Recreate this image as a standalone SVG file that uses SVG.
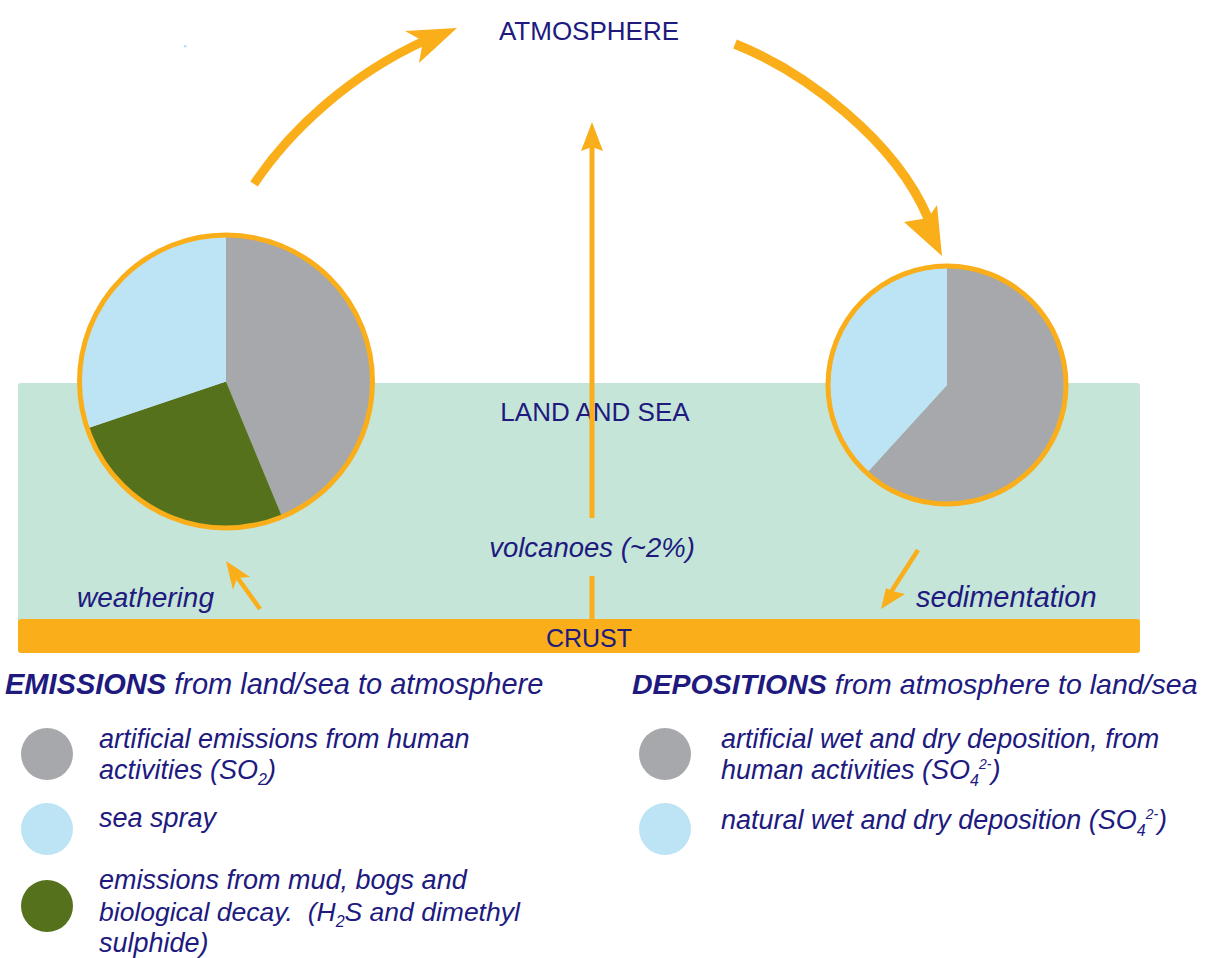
<svg xmlns="http://www.w3.org/2000/svg" width="1205" height="958" viewBox="0 0 1205 958">
  <style>
    .txt { font-family: "Liberation Sans", Arial, sans-serif; fill: #201a7f; }
    .it { font-style: italic; }
    .bold { font-weight: bold; }
    .flow { fill: none; stroke: #f9ae1a; }
    .head { fill: #f9ae1a; }
    .grey { fill: #a7a8ab; }
    .blue { fill: #bde4f5; }
    .green { fill: #55711c; }
    .rim { fill: none; stroke: #f9ae1a; stroke-width: 5; }
    .sub { font-size: 16px; }
    .sup { font-size: 14px; }
  </style>

  <rect width="1205" height="958" fill="#ffffff"/>
  <rect x="184" y="45" width="2.5" height="2.5" fill="#bde4f5"/>

  <!-- land and sea layer -->
  <g id="land-sea">
    <rect x="18" y="383" width="1122" height="240" rx="3" fill="#c5e5d9"/>
    <text class="txt" x="595" y="421" font-size="26" text-anchor="middle">LAND AND SEA</text>
  </g>

  <!-- crust bar -->
  <g id="crust">
    <rect x="18" y="619" width="1122" height="34" rx="3" fill="#f9ae1a"/>
    <text class="txt" x="589" y="647" font-size="25" text-anchor="middle">CRUST</text>
  </g>

  <g id="atmosphere">
    <text class="txt" x="589" y="40" font-size="26" text-anchor="middle">ATMOSPHERE</text>
  </g>

  <!-- connectors -->
  <g id="connectors">
    <!-- emissions up to the atmosphere -->
    <path class="flow" d="M254,184 C290,130 350,75 424,41" stroke-width="9"/>
    <polygon class="head" points="457,28 405,31 423,41 419,63"/>
    <!-- deposition down to land/sea -->
    <path class="flow" d="M735,44 C805,72 895,140 928,218" stroke-width="9.5"/>
    <polygon class="head" points="942,256 904,222 928,218 937,205"/>
    <!-- volcanoes -->
    <line class="flow" x1="592" y1="146" x2="592" y2="518" stroke-width="5"/>
    <line class="flow" x1="592" y1="576" x2="592" y2="620" stroke-width="5"/>
    <polygon class="head" points="592,122 581,151 592,147 603,151"/>
    <!-- weathering -->
    <line class="flow" x1="260" y1="609" x2="237" y2="577" stroke-width="4.5"/>
    <polygon class="head" points="226,561 233,590 237,578 250,577"/>
    <!-- sedimentation -->
    <line class="flow" x1="918" y1="550" x2="891" y2="592" stroke-width="4.5"/>
    <polygon class="head" points="881,609 886,588 892,591 905,594"/>
  </g>

  <g id="volcanoes-label">
    <text class="txt it" x="592" y="557" font-size="27.5" text-anchor="middle">volcanoes (~2%)</text>
  </g>
  <g id="weathering-label">
    <text class="txt it" x="77" y="607" font-size="28">weathering</text>
  </g>
  <g id="sedimentation-label">
    <text class="txt it" x="916" y="607" font-size="29">sedimentation</text>
  </g>

  <!-- emission sources pie -->
  <g id="emissions-pie">
    <path class="grey" d="M226,381.5 L226,234.5 A147,147 0 0 1 282.3,517.3 Z"/>
    <path class="green" d="M226,381.5 L282.3,517.3 A147,147 0 0 1 86.8,428.6 Z"/>
    <path class="blue" d="M226,381.5 L86.8,428.6 A147,147 0 0 1 226,234.5 Z"/>
    <circle class="rim" cx="226" cy="381.5" r="146.5"/>
  </g>

  <!-- deposition pie -->
  <g id="depositions-pie">
    <path class="grey" d="M947,385 L947,266 A119,119 0 1 1 866.8,472.9 Z"/>
    <path class="blue" d="M947,385 L866.8,472.9 A119,119 0 0 1 947,266 Z"/>
    <circle class="rim" cx="947" cy="385" r="119"/>
  </g>

  <!-- emissions legend -->
  <g id="emissions-legend">
    <text class="txt it" x="5" y="694" font-size="29"><tspan class="bold">EMISSIONS</tspan> from land/sea to atmosphere</text>
    <circle class="grey" cx="47" cy="754" r="26"/>
    <text class="txt it" x="99" y="748" font-size="27">artificial emissions from human</text>
    <text class="txt it" x="99" y="779" font-size="27">activities (SO<tspan class="sub" dy="6">2</tspan><tspan dy="-6">)</tspan></text>
    <circle class="blue" cx="47" cy="829" r="26"/>
    <text class="txt it" x="99" y="827" font-size="27">sea spray</text>
    <circle class="green" cx="47" cy="906" r="26"/>
    <text class="txt it" x="99" y="889" font-size="27">emissions from mud, bogs and</text>
    <text class="txt it" x="99" y="921" font-size="26.5" xml:space="preserve">biological decay.  (H<tspan class="sub" dy="6">2</tspan><tspan dy="-6">S and dimethyl</tspan></text>
    <text class="txt it" x="99" y="952" font-size="27">sulphide)</text>
  </g>

  <!-- depositions legend -->
  <g id="depositions-legend">
    <text class="txt it" x="632" y="694" font-size="28.5"><tspan class="bold">DEPOSITIONS</tspan> from atmosphere to land/sea</text>
    <circle class="grey" cx="665" cy="754" r="26"/>
    <text class="txt it" x="721" y="748" font-size="27">artificial wet and dry deposition, from</text>
    <text class="txt it" x="721" y="779" font-size="27">human activities (SO<tspan class="sub" dy="7">4</tspan><tspan class="sup" dy="-17">2-</tspan><tspan dy="10">)</tspan></text>
    <circle class="blue" cx="665" cy="829" r="26"/>
    <text class="txt it" x="721" y="829" font-size="27">natural wet and dry deposition (SO<tspan class="sub" dy="7">4</tspan><tspan class="sup" dy="-17">2-</tspan><tspan dy="10">)</tspan></text>
  </g>
</svg>
